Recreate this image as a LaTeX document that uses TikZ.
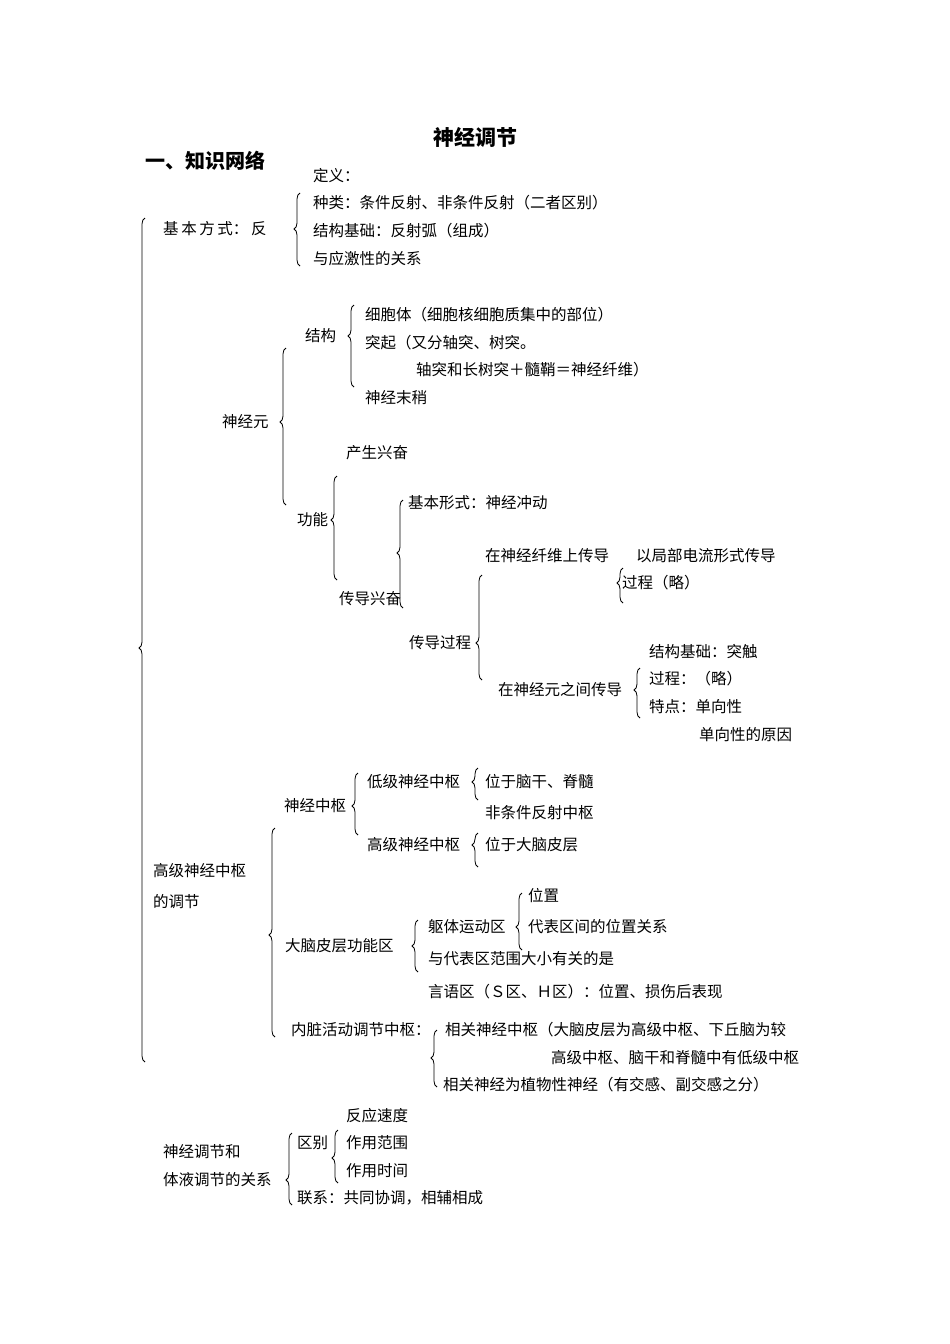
\documentclass[tikz,border=0pt]{standalone}
\usepackage{fontspec}
\setmainfont{Noto Sans CJK SC}
\usetikzlibrary{decorations.pathreplacing}
\newcommand\mybrace[4]{%
  \pgfmathsetmacro\myasp{(#4-#3)/(#4-#2)}%
  \draw[bracestyle,decoration={brace,amplitude=6pt,aspect=\myasp}] (#1,#4) -- (#1,#2);}
\begin{document}
\begin{tikzpicture}[x=1pt,y=-1pt,
  t/.style={anchor=west,inner sep=0pt,font=\fontsize{15.5}{18}\selectfont},
  bracestyle/.style={decorate,line width=0.8pt}]
\useasboundingbox (0,0) rectangle (950,1344);
\node[font=\fontsize{21}{24}\selectfont\bfseries] (title) at (475,137) {神经调节};
\node[t,font=\fontsize{20}{24}\selectfont\bfseries] (h1) at (145,161) {一、知识网络};
\node[t] (a0) at (163,229) {基\,本\,方\,式：\,反};
\node[t] (a1) at (313,176) {定义：};
\node[t] (a2) at (313,203) {种类：条件反射、非条件反射（二者区别）};
\node[t] (a3) at (313,231) {结构基础：反射弧（组成）};
\node[t] (a4) at (313,259) {与应激性的关系};
\node[t] (b0) at (222,422) {神经元};
\node[t] (b1) at (305,336) {结构};
\node[t] (b11) at (365,315) {细胞体（细胞核细胞质集中的部位）};
\node[t] (b12) at (365,343) {突起（又分轴突、树突。};
\node[t] (b13) at (416,370) {轴突和长树突＋髓鞘＝神经纤维）};
\node[t] (b14) at (365,398) {神经末稍};
\node[t] (b2) at (297,520) {功能};
\node[t] (b21) at (346,453) {产生兴奋};
\node[t] (b22) at (339,599) {传导兴奋};
\node[t] (b221) at (408,503) {基本形式：神经冲动};
\node[t] (b222) at (409,643) {传导过程};
\node[t] (c1) at (485,556) {在神经纤维上传导};
\node[t] (c11) at (636,556) {以局部电流形式传导};
\node[t] (c12) at (622,583) {过程（略）};
\node[t] (c2) at (498,690) {在神经元之间传导};
\node[t] (c21) at (649,652) {结构基础：突触};
\node[t] (c22) at (649,679) {过程：（略）};
\node[t] (c23) at (649,707) {特点：单向性};
\node[t] (c24) at (699,735) {单向性的原因};
\node[t] (d0) at (153,871) {高级神经中枢};
\node[t] (d0b) at (153,902) {的调节};
\node[t] (d1) at (284,806) {神经中枢};
\node[t] (d11) at (367,782) {低级神经中枢};
\node[t] (d111) at (485,782) {位于脑干、脊髓};
\node[t] (d112) at (485,813) {非条件反射中枢};
\node[t] (d12) at (367,845) {高级神经中枢};
\node[t] (d121) at (485,845) {位于大脑皮层};
\node[t] (d2) at (285,946) {大脑皮层功能区};
\node[t] (d21) at (428,927) {躯体运动区};
\node[t] (d211) at (528,896) {位置};
\node[t] (d212) at (528,927) {代表区间的位置关系};
\node[t] (d213) at (428,959) {与代表区范围大小有关的是};
\node[t] (d22) at (428,992) {言语区（Ｓ区、Ｈ区）：位置、损伤后表现};
\node[t] (d3) at (291,1030) {内脏活动调节中枢：};
\node[t] (d31) at (445,1030) {相关神经中枢（大脑皮层为高级中枢、下丘脑为较};
\node[t] (d31b) at (551,1058) {高级中枢、脑干和脊髓中有低级中枢};
\node[t] (d32) at (443,1085) {相关神经为植物性神经（有交感、副交感之分）};
\node[t] (e0) at (163,1152) {神经调节和};
\node[t] (e0b) at (163,1180) {体液调节的关系};
\node[t] (e1) at (297,1143) {区别};
\node[t] (e11) at (346,1116) {反应速度};
\node[t] (e12) at (346,1143) {作用范围};
\node[t] (e13) at (346,1171) {作用时间};
\node[t] (e2) at (297,1198) {联系：共同协调，相辅相成};
% braces
\mybrace{145}{218}{648}{1062}
\mybrace{300}{193}{229}{266}
\mybrace{286}{348}{422}{505}
\mybrace{354}{305}{336}{387}
\mybrace{337}{476}{520}{580}
\mybrace{403}{500}{553}{608}
\mybrace{482}{575}{643}{680}
\mybrace{623}{568}{583}{603}
\mybrace{640}{668}{690}{718}
\mybrace{275}{828}{935}{1037}
\mybrace{358}{773}{806}{835}
\mybrace{478}{768}{782}{800}
\mybrace{478}{833}{845}{867}
\mybrace{418}{920}{946}{972}
\mybrace{522}{893}{927}{950}
\mybrace{437}{1030}{1058}{1087}
\mybrace{338}{1130}{1158}{1183}
\mybrace{292}{1133}{1180}{1205}
\end{tikzpicture}
\end{document}
